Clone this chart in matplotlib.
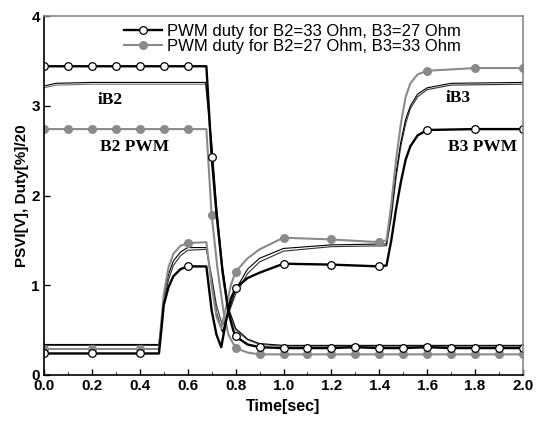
import numpy as np
import matplotlib
matplotlib.use("Agg")
import matplotlib.pyplot as plt

plt.rcParams['font.family'] = ['Liberation Sans', 'DejaVu Sans']

# duty of B2, config 1 (B2=33, B3=27) - black, open circles
t_b2_blk = [0, 0.1, 0.2, 0.3, 0.4, 0.5, 0.6, 0.678, 0.7, 0.72, 0.745, 0.77, 0.79, 0.8,
            0.85, 0.9, 1.0, 1.1, 1.2, 1.3, 1.4, 1.5, 1.6, 1.7, 1.8, 1.9, 2.0]
v_b2_blk = [3.44, 3.44, 3.44, 3.44, 3.44, 3.44, 3.44, 3.44, 2.43, 1.8, 1.17, 0.7, 0.5, 0.43,
            0.34, 0.31, 0.30, 0.30, 0.30, 0.31, 0.30, 0.30, 0.31, 0.30, 0.30, 0.30, 0.30]

# duty of B2, config 2 (B2=27, B3=33) - gray, filled circles
t_b2_gry = [0, 0.1, 0.2, 0.3, 0.4, 0.5, 0.6, 0.678, 0.7, 0.725, 0.75, 0.77, 0.8, 0.85,
            0.9, 1.0, 1.1, 1.2, 1.3, 1.4, 1.5, 1.6, 1.7, 1.8, 1.9, 2.0]
v_b2_gry = [2.74, 2.74, 2.74, 2.74, 2.74, 2.74, 2.74, 2.74, 1.78, 1.17, 0.7, 0.45, 0.30, 0.25,
            0.23, 0.23, 0.23, 0.23, 0.23, 0.23, 0.23, 0.23, 0.23, 0.23, 0.23, 0.23]

# duty of B3
t_b3 = [0, 0.2, 0.4, 0.48, 0.49, 0.5, 0.52, 0.54, 0.57, 0.6, 0.678, 0.7, 0.72, 0.74, 0.76,
        0.78, 0.8, 0.85, 0.9, 1.0, 1.2, 1.4, 1.43, 1.45, 1.47, 1.49, 1.51, 1.53, 1.56, 1.6,
        1.8, 2.0]
v_b3_blk = [0.24, 0.24, 0.24, 0.24, 0.5, 0.78, 0.98, 1.1, 1.18, 1.21, 1.21, 0.72, 0.45, 0.31,
            0.6, 0.85, 0.97, 1.08, 1.14, 1.24, 1.23, 1.21, 1.22, 1.5, 1.85, 2.15, 2.4, 2.55,
            2.67, 2.73, 2.74, 2.74]
v_b3_gry = [0.29, 0.29, 0.29, 0.29, 0.6, 0.9, 1.2, 1.35, 1.44, 1.47, 1.48, 1.0, 0.65, 0.52,
            0.75, 1.0, 1.15, 1.3, 1.4, 1.53, 1.51, 1.48, 1.5, 1.9, 2.4, 2.8, 3.1, 3.25, 3.35,
            3.39, 3.42, 3.42]

# currents iB2 (thin)
t_ib2 = [0, 0.05, 0.2, 0.675, 0.7, 0.72, 0.745, 0.77, 0.8, 0.85, 0.9, 1.0, 2.0]
v_ib2_a = [3.22, 3.25, 3.26, 3.26, 2.6, 1.9, 1.2, 0.75, 0.52, 0.4, 0.35, 0.33, 0.33]
v_ib2_b = [3.20, 3.23, 3.24, 3.24, 2.5, 1.8, 1.1, 0.7, 0.5, 0.39, 0.34, 0.32, 0.32]

# currents iB3 (thin)
t_ib3 = [0, 0.48, 0.49, 0.5, 0.52, 0.54, 0.57, 0.6, 0.678, 0.7, 0.72, 0.745, 0.77, 0.8,
         0.85, 0.9, 1.0, 1.2, 1.43, 1.45, 1.47, 1.49, 1.51, 1.53, 1.56, 1.6, 1.7, 2.0]
v_ib3_a = [0.34, 0.34, 0.6, 0.88, 1.12, 1.27, 1.37, 1.42, 1.42, 1.05, 0.7, 0.48, 0.7, 0.95,
           1.18, 1.3, 1.41, 1.45, 1.46, 1.8, 2.25, 2.6, 2.85, 3.0, 3.13, 3.2, 3.25, 3.26]
v_ib3_b = [0.33, 0.33, 0.55, 0.82, 1.06, 1.22, 1.33, 1.39, 1.40, 1.1, 0.78, 0.55, 0.68, 0.9,
           1.13, 1.26, 1.38, 1.43, 1.44, 1.75, 2.2, 2.55, 2.8, 2.97, 3.1, 3.18, 3.23, 3.24]

labels = ["PWM duty for B2=33 Ohm, B3=27 Ohm", "PWM duty for B2=27 Ohm, B3=33 Ohm"]


def marks(t, step):
    # indices of samples sitting on the marker grid
    return [i for i, x in enumerate(t) if abs(x / step - round(x / step)) < 1e-6]


fig = plt.figure(figsize=(5.42, 4.22), dpi=100)
ax = fig.add_axes([44 / 542, 47 / 422, 479 / 542, 359 / 422])

gray = '#8a8a8a'
ax.plot(t_ib2, v_ib2_b, color='#707070', lw=0.8)
ax.plot(t_ib3, v_ib3_b, color='#303030', lw=0.8)
ax.plot(t_ib2, v_ib2_a, color='black', lw=0.8)
ax.plot(t_ib3, v_ib3_a, color='black', lw=0.8)

ax.plot(t_b2_gry, v_b2_gry, color=gray, lw=1.5, marker='o', ms=5.5, mfc=gray, mec=gray,
        markevery=marks(t_b2_gry, 0.1))
ax.plot(t_b3, v_b3_gry, color=gray, lw=1.5, marker='o', ms=5.5, mfc=gray, mec=gray,
        markevery=marks(t_b3, 0.2), label=labels[1])
ax.plot(t_b2_blk, v_b2_blk, color='black', lw=1.7, marker='o', ms=5.5, mfc='white', mec='black',
        mew=0.9, markevery=marks(t_b2_blk, 0.1))
ax.plot(t_b3, v_b3_blk, color='black', lw=1.7, marker='o', ms=5.5, mfc='white', mec='black',
        mew=0.9, markevery=marks(t_b3, 0.2), label=labels[0])

serif = dict(family=['Liberation Serif', 'DejaVu Serif'], fontweight='bold', fontsize=12.5,
             ha='center', va='center')
ax.text(0.276, 3.06, "iB2", **serif)
ax.text(0.38, 2.54, "B2 PWM", **serif)
ax.text(1.73, 3.09, "iB3", **serif)
ax.text(1.83, 2.54, "B3 PWM", **serif)

h, l = ax.get_legend_handles_labels()
ax.legend(h[::-1], l[::-1], loc='upper left', bbox_to_anchor=(0.167, 0.978), frameon=False,
          fontsize=12, handlelength=2.3, handletextpad=0.3, labelspacing=0.0,
          borderpad=0, borderaxespad=0)

ax.set_xlim(0, 2.0)
ax.set_ylim(0, 4)
ax.set_xticks(np.arange(0, 2.01, 0.2))
ax.set_xticks(np.arange(0, 2.01, 0.1), minor=True)
ax.set_yticks([0, 1, 2, 3, 4])
ax.set_xticklabels(["%.1f" % x for x in np.arange(0, 2.01, 0.2)])
ax.tick_params(direction='in', length=4, width=1, labelsize=11, pad=3)
ax.tick_params(which='minor', direction='in', length=2, width=0.8)
for lab in ax.get_xticklabels() + ax.get_yticklabels():
    lab.set_fontweight('bold')

for s in ['left', 'bottom']:
    ax.spines[s].set_linewidth(1.2)
    ax.spines[s].set_color('black')
for s in ['top', 'right']:
    ax.spines[s].set_linewidth(1.2)
    ax.spines[s].set_color('#888888')

ax.set_xlabel("Time[sec]", fontsize=11.5, fontweight='bold', labelpad=4)
ax.set_ylabel("PSVI[V], Duty[%]/20", fontsize=11, fontweight='bold', labelpad=2)

fig.savefig("out.png", dpi=100)
